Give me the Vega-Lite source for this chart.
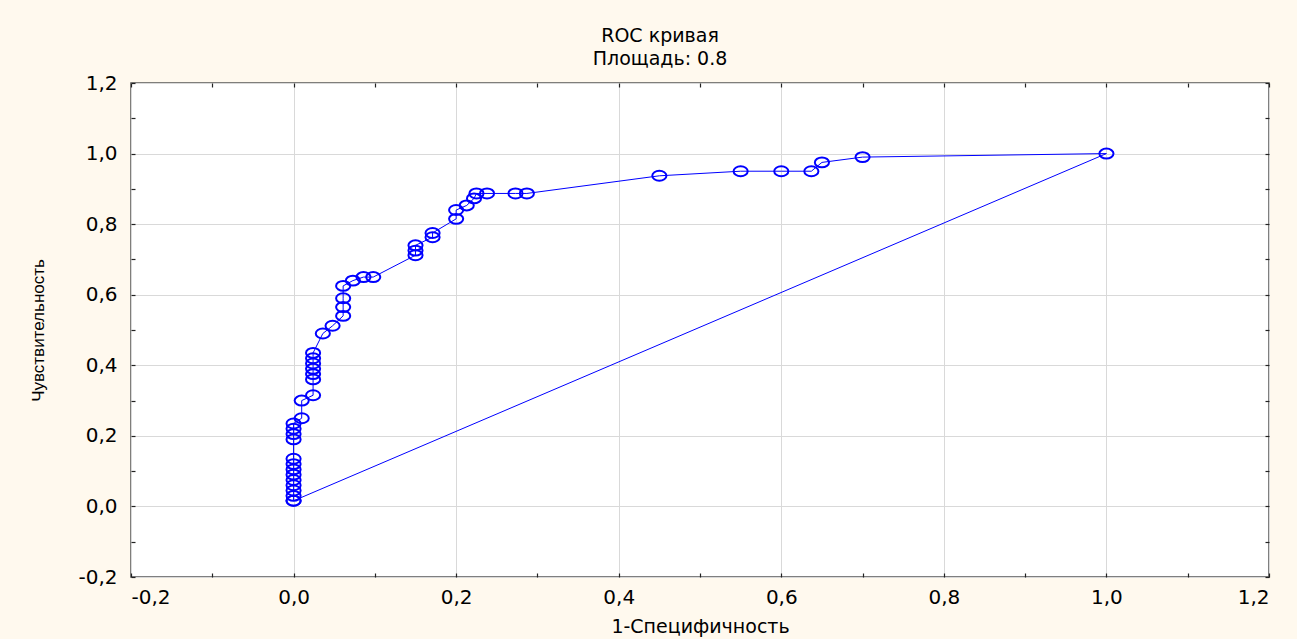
{
  "$schema": "https://vega.github.io/schema/vega-lite/v6.json",
  "autosize": "none",
  "width": 1138,
  "height": 494,
  "padding": {"left": 131, "top": 83, "right": 28, "bottom": 62},
  "background": "#FFF9EE",
  "title": {
    "text": ["ROC кривая", "Площадь: 0.8"],
    "font": "DejaVu Sans",
    "fontSize": 19,
    "fontWeight": "normal",
    "color": "#000000",
    "lineHeight": 23,
    "offset": 4,
    "dx": -40,
    "anchor": "middle"
  },
  "data": {
    "values": [
      {"o": 1, "x": 0, "y": 0.016},
      {"o": 2, "x": 0, "y": 0.03},
      {"o": 3, "x": 0, "y": 0.045},
      {"o": 4, "x": 0, "y": 0.06},
      {"o": 5, "x": 0, "y": 0.075},
      {"o": 6, "x": 0, "y": 0.09},
      {"o": 7, "x": 0, "y": 0.105},
      {"o": 8, "x": 0, "y": 0.12},
      {"o": 9, "x": 0, "y": 0.135},
      {"o": 10, "x": 0, "y": 0.19},
      {"o": 11, "x": 0, "y": 0.205},
      {"o": 12, "x": 0, "y": 0.22},
      {"o": 13, "x": 0, "y": 0.235},
      {"o": 14, "x": 0.01, "y": 0.25},
      {"o": 15, "x": 0.01, "y": 0.3},
      {"o": 16, "x": 0.024, "y": 0.315},
      {"o": 17, "x": 0.024, "y": 0.36},
      {"o": 18, "x": 0.024, "y": 0.375},
      {"o": 19, "x": 0.024, "y": 0.39},
      {"o": 20, "x": 0.024, "y": 0.405},
      {"o": 21, "x": 0.024, "y": 0.42},
      {"o": 22, "x": 0.024, "y": 0.435},
      {"o": 23, "x": 0.036, "y": 0.49},
      {"o": 24, "x": 0.048, "y": 0.512},
      {"o": 25, "x": 0.061, "y": 0.54},
      {"o": 26, "x": 0.061, "y": 0.565},
      {"o": 27, "x": 0.061, "y": 0.59},
      {"o": 28, "x": 0.061, "y": 0.625},
      {"o": 29, "x": 0.073, "y": 0.64},
      {"o": 30, "x": 0.086, "y": 0.65},
      {"o": 31, "x": 0.098, "y": 0.65},
      {"o": 32, "x": 0.15, "y": 0.712},
      {"o": 33, "x": 0.15, "y": 0.725},
      {"o": 34, "x": 0.15, "y": 0.74},
      {"o": 35, "x": 0.171, "y": 0.763},
      {"o": 36, "x": 0.171, "y": 0.775},
      {"o": 37, "x": 0.2, "y": 0.815},
      {"o": 38, "x": 0.2, "y": 0.84},
      {"o": 39, "x": 0.213, "y": 0.853},
      {"o": 40, "x": 0.222, "y": 0.873},
      {"o": 41, "x": 0.225, "y": 0.887},
      {"o": 42, "x": 0.238, "y": 0.887},
      {"o": 43, "x": 0.273, "y": 0.887},
      {"o": 44, "x": 0.287, "y": 0.887},
      {"o": 45, "x": 0.45, "y": 0.937},
      {"o": 46, "x": 0.55, "y": 0.95},
      {"o": 47, "x": 0.6, "y": 0.95},
      {"o": 48, "x": 0.637, "y": 0.95},
      {"o": 49, "x": 0.65, "y": 0.975},
      {"o": 50, "x": 0.7, "y": 0.99},
      {"o": 51, "x": 1.0, "y": 1.0},
      {"o": 52, "x": 0, "y": 0.016}
    ]
  },
  "layer": [
    {
      "mark": {"type": "line", "color": "#0000FF", "strokeWidth": 1, "clip": false},
      "encoding": {
        "x": {
          "field": "x", "type": "quantitative",
          "scale": {"domain": [-0.2, 1.2], "nice": false, "zero": false},
          "axis": {
            "orient": "bottom",
            "title": "1-Специфичность",
            "values": [-0.2, -0.1, 0, 0.1, 0.2, 0.3, 0.4, 0.5, 0.6, 0.7, 0.8, 0.9, 1.0, 1.1, 1.2],
            "format": ".1f",
            "labelExpr": "abs(round(datum.value*10))%2==0 ? datum.label : ''",
            "gridColor": {"condition": {"test": "abs(round(datum.value*10))%2==0", "value": "#D9D9D9"}, "value": "transparent"},
            "labelPadding": 14,
            "titlePadding": 10
          }
        },
        "y": {
          "field": "y", "type": "quantitative",
          "scale": {"domain": [-0.2, 1.2], "nice": false, "zero": false},
          "axis": {
            "orient": "left",
            "title": "Чувствительность",
            "values": [-0.2, -0.1, 0, 0.1, 0.2, 0.3, 0.4, 0.5, 0.6, 0.7, 0.8, 0.9, 1.0, 1.1, 1.2],
            "format": ".1f",
            "labelExpr": "abs(round(datum.value*10))%2==0 ? datum.label : ''",
            "gridColor": {"condition": {"test": "abs(round(datum.value*10))%2==0", "value": "#D9D9D9"}, "value": "transparent"},
            "labelPadding": 18,
            "titleFont": "Liberation Sans",
            "titleFontSize": 17,
            "titlePadding": 30
          }
        },
        "order": {"field": "o", "type": "quantitative"}
      }
    },
    {
      "mark": {
        "type": "point",
        "shape": "M -1 0 A 1 0.7 0 1 1 1 0 A 1 0.7 0 1 1 -1 0 Z",
        "filled": false,
        "stroke": "#0000FF",
        "strokeWidth": 2,
        "size": 200,
        "opacity": 1,
        "clip": false
      },
      "encoding": {
        "x": {
          "field": "x", "type": "quantitative",
          "axis": {
            "orient": "top",
            "title": null,
            "labels": false,
            "grid": false,
            "values": [-0.2, -0.1, 0, 0.1, 0.2, 0.3, 0.4, 0.5, 0.6, 0.7, 0.8, 0.9, 1.0, 1.1, 1.2]
          }
        },
        "y": {
          "field": "y", "type": "quantitative",
          "axis": {
            "orient": "right",
            "title": null,
            "labels": false,
            "grid": false,
            "values": [-0.2, -0.1, 0, 0.1, 0.2, 0.3, 0.4, 0.5, 0.6, 0.7, 0.8, 0.9, 1.0, 1.1, 1.2]
          }
        }
      }
    }
  ],
  "resolve": {"axis": {"x": "independent", "y": "independent"}},
  "config": {
    "locale": {"number": {"decimal": ",", "thousands": " ", "grouping": [3], "currency": ["", ""], "minus": "-"}},
    "view": {"fill": "#FFFFFF", "stroke": "#555555", "strokeWidth": 1.5},
    "axis": {
      "domain": false,
      "tickSize": -4,
      "tickColor": "#222222",
      "tickWidth": 1.2,
      "labelFont": "DejaVu Sans",
      "labelFontSize": 20,
      "labelColor": "#000000",
      "titleFont": "DejaVu Sans",
      "titleFontSize": 19,
      "titleFontWeight": "normal",
      "titleColor": "#000000",
      "gridWidth": 1
    }
  }
}
